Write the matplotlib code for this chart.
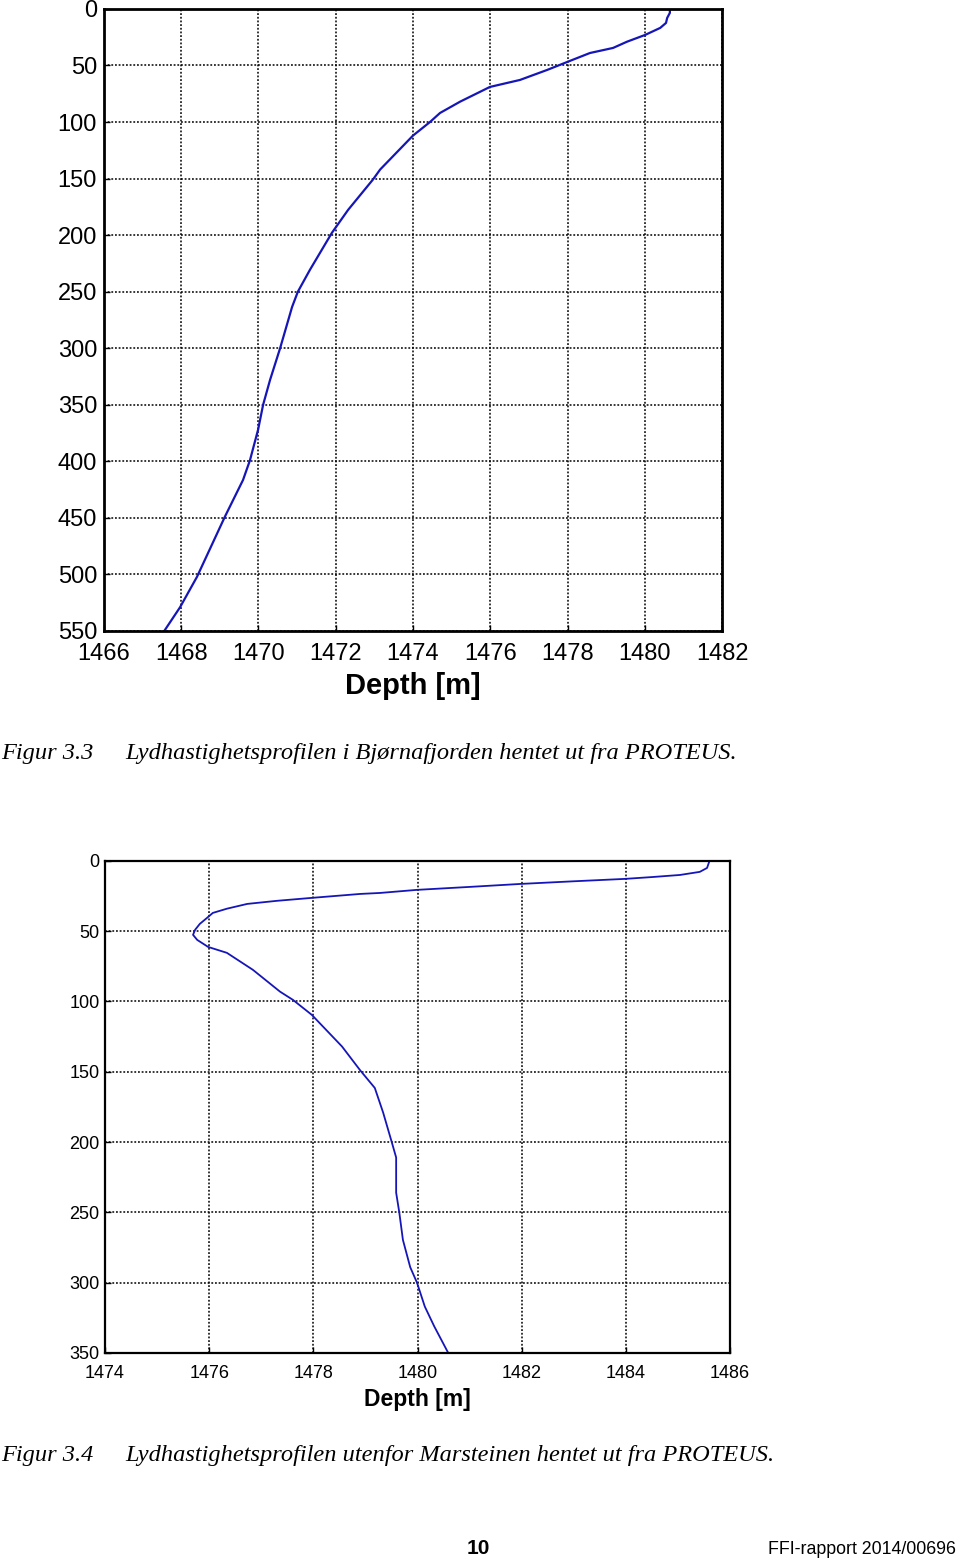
import numpy as np
import matplotlib.pyplot as plt

# Figur 3.3 - Bjornafjorden profile (sound speed vs depth)
speed_a = [1480.65, 1480.65, 1480.58, 1480.55, 1480.40, 1480.01, 1479.54, 1479.18,
           1478.58, 1478.06, 1477.47, 1476.77, 1475.99, 1475.73, 1475.22, 1474.70,
           1474.44, 1474.00, 1473.15, 1472.96, 1472.32, 1471.90, 1471.33, 1471.02,
           1470.87, 1470.56, 1470.30, 1470.12, 1469.99, 1469.78, 1469.60, 1469.13,
           1468.41, 1467.97, 1467.58]
depth_a = [0, 3.5, 8, 12.4, 16.8, 23, 29, 34.5,
           39, 46, 54, 62.8, 69, 73.4, 82, 92,
           100, 112, 142, 151, 177.7, 198, 230.8, 250,
           263.5, 300, 328, 350, 372, 399, 416.5, 449,
           502, 529, 549]

# Figur 3.4 - Marsteinen profile
speed_b = [1485.60, 1485.56, 1485.42, 1485.04, 1484.50, 1483.98, 1483.00, 1481.97,
           1481.00, 1479.99, 1479.28, 1478.90, 1477.97, 1477.30, 1476.73, 1476.34,
           1476.07, 1475.96, 1475.82, 1475.73, 1475.69, 1475.77, 1475.98, 1476.34,
           1476.84, 1477.36, 1477.61, 1477.97, 1478.55, 1478.90, 1479.18, 1479.34,
           1479.51, 1479.59, 1479.59, 1479.65, 1479.72, 1479.86, 1479.99, 1480.14,
           1480.32, 1480.59]
depth_b = [0.7, 5, 7.8, 10, 11.5, 12.8, 14.5, 16.4,
           18.5, 20.6, 22.8, 23.5, 26.3, 28.4, 30.6, 34,
           37, 40.5, 44.8, 49, 52.6, 56.2, 61.2, 65.4,
           77.5, 93, 98.9, 109.5, 132, 149, 161.5, 179,
           200.6, 211, 236, 250, 269.6, 289, 300, 317,
           331, 350]

xticks_a = np.arange(1466, 1483, 2)
yticks_a = np.arange(0, 551, 50)
xticks_b = np.arange(1474, 1487, 2)
yticks_b = np.arange(0, 351, 50)

plt.rcParams['font.family'] = ['Liberation Sans', 'DejaVu Sans']
line_c = '#1616b8'

fig = plt.figure(figsize=(9.6, 15.63), dpi=100)


def setup(ax, xt, yt, fs, lfs, lw, xpad, ypad, lpad):
    ax.set_xlim(xt[0], xt[-1])
    ax.set_ylim(yt[-1], yt[0])
    ax.set_xticks(xt)
    ax.set_yticks(yt)
    ax.tick_params(direction='in', length=4, width=1, labelsize=fs,
                   top=False, right=False)
    ax.tick_params(axis='x', pad=xpad)
    ax.tick_params(axis='y', pad=ypad)
    ax.grid(True, color='k', ls=(0, (1.2, 1.2)), lw=1.1)
    for s in ax.spines.values():
        s.set_linewidth(lw)
    ax.set_xlabel("Depth [m]", fontsize=lfs, fontweight='bold', labelpad=lpad)


ax1 = fig.add_axes([0.1083, 0.5963, 0.6438, 0.398])
ax1.plot(speed_a, depth_a, color=line_c, lw=1.6)
setup(ax1, xticks_a, yticks_a, 17, 21, 2, 9, 5, 5)

ax2 = fig.add_axes([0.1094, 0.1344, 0.651, 0.3148])
ax2.plot(speed_b, depth_b, color=line_c, lw=1.3)
setup(ax2, xticks_b, yticks_b, 13, 16.5, 1.6, 9, 4, 4)

cap = dict(family='Liberation Serif', style='italic', fontsize=17.6, va='center')
fig.text(1 / 960, 1 - 753 / 1563, "Figur 3.3", **cap)
fig.text(125 / 960, 1 - 753 / 1563,
         "Lydhastighetsprofilen i Bjørnafjorden hentet ut fra PROTEUS.", **cap)
fig.text(1 / 960, 1 - 1456 / 1563, "Figur 3.4", **cap)
fig.text(125 / 960, 1 - 1456 / 1563,
         "Lydhastighetsprofilen utenfor Marsteinen hentet ut fra PROTEUS.", **cap)

fig.text(478 / 960, 1 - 1548 / 1563, "10", fontsize=15, fontweight='bold',
         ha='center', va='center')
fig.text(956 / 960, 1 - 1550 / 1563, "FFI-rapport 2014/00696", fontsize=12.8,
         ha='right', va='center')

fig.savefig("out.png", dpi=100)
